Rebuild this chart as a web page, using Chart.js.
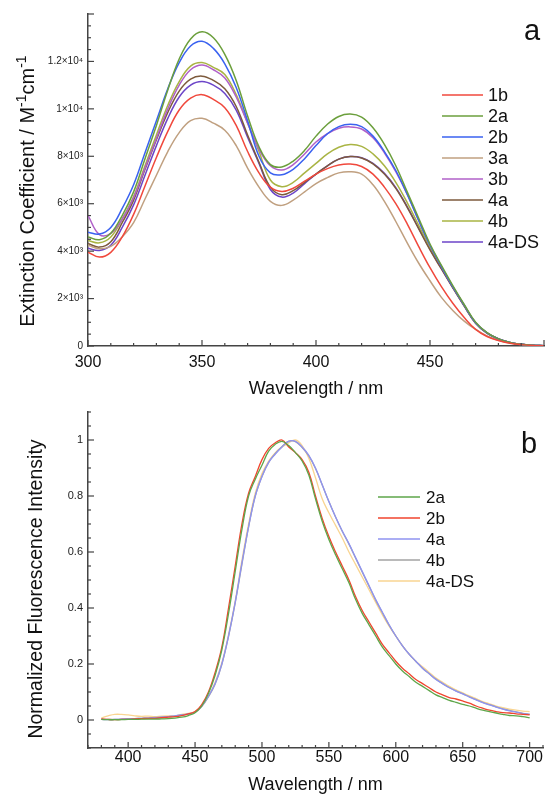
<!DOCTYPE html>
<html>
<head>
<meta charset="utf-8">
<script src="https://cdn.jsdelivr.net/npm/chart.js@4.4.0/dist/chart.umd.min.js"></script>
<style>
  body { margin: 0; background: #fff; width: 547px; height: 796px; overflow: hidden; position: relative; }
  .box { position: absolute; left: 0; width: 547px; }
  #boxA { top: 0; height: 400px; }
  #boxB { top: 400px; height: 396px; }
</style>
</head>
<body>
<div class="box" id="boxA"><canvas id="absChart"></canvas></div>
<div class="box" id="boxB"><canvas id="fluoChart"></canvas></div>
<script>
const FONT = '"Liberation Sans", Arial, sans-serif';

// ---- panel a: absorption ----
const waveA = [300,305,310,315,320,325,330,335,340,345,350,355,360,365,370,375,380,385,390,395,
               400,405,410,415,420,425,430,435,440,445,450,455,460,465,470,475,480,485,490,495,500];
const absLabels = ['1b', '2a', '2b', '3a', '3b', '4a', '4b', '4a-DS'];
const absColors = ['#f0483c', '#6b9f3c', '#3a62f0', '#c0a080', '#b060c8', '#7d5a3c', '#a9b443', '#6c45c8'];
const ext1b = [3960,3750,3950,4600,5550,6750,7950,9050,9950,10450,10600,10400,10050,9300,8200,7300,6700,6520,6650,6950,
               7250,7480,7630,7670,7570,7250,6700,6000,5150,4200,3300,2500,1800,1200,700,400,230,120,58,25,10];
const ext2a = [4600,4480,4750,5500,6500,7900,9300,10800,12100,12950,13250,13000,12300,11200,9700,8400,7650,7550,7800,8250,
               8850,9350,9680,9780,9650,9200,8500,7600,6500,5400,4300,3400,2550,1750,1000,560,300,150,70,30,12];
const ext2b = [4800,4720,5000,5800,6800,8150,9500,10850,11950,12650,12850,12550,11900,10900,9500,8000,7300,7220,7450,7900,
               8450,8950,9250,9350,9250,8850,8200,7400,6400,5300,4250,3350,2500,1720,980,550,300,150,70,30,12];
const ext3a = [4250,4100,4200,4600,5200,6200,7200,8200,9000,9500,9600,9400,9100,8450,7500,6700,6100,5930,6150,6500,
               6850,7100,7300,7350,7250,6800,6100,5250,4350,3500,2750,2050,1500,1050,700,420,240,125,60,25,10];
const ext3b = [5500,4700,4750,5350,6250,7500,8750,10000,11000,11650,11850,11650,11300,10500,9400,8300,7600,7420,7650,8100,
               8600,8950,9180,9240,9150,8780,8150,7350,6400,5300,4250,3350,2500,1720,980,550,300,150,70,30,12];
const ext4a = [4320,4170,4400,5200,6150,7450,8700,9850,10750,11250,11380,11200,10850,10100,8900,7750,6700,6380,6550,6900,
               7250,7600,7880,7990,7930,7680,7250,6650,5850,4950,4050,3250,2450,1680,960,540,295,150,70,30,12];
const ext4b = [4450,4350,4600,5350,6300,7600,8900,10150,11150,11800,11950,11750,11450,10600,9400,8200,7000,6720,6900,7300,
               7700,8100,8380,8500,8420,8100,7600,6900,6050,5100,4150,3300,2480,1700,970,550,300,150,70,30,12];
const ext4aDS = [4120,4030,4250,5000,5950,7200,8450,9600,10500,11000,11150,11000,10650,9950,8800,7700,6600,6280,6450,6850,
                 7250,7600,7880,7990,7940,7700,7280,6680,5880,4980,4080,3270,2470,1700,970,545,298,150,70,30,12];
const absSeries = [ext1b, ext2a, ext2b, ext3a, ext3b, ext4a, ext4b, ext4aDS];
const absXTicks = [300, 350, 400, 450];
const absYTicks = [0, 2000, 4000, 6000, 8000, 10000, 12000];
const absYText = ['0', '2\u00d710\u00b3', '4\u00d710\u00b3', '6\u00d710\u00b3', '8\u00d710\u00b3', '1\u00d710\u2074', '1.2\u00d710\u2074'];

// ---- panel b: normalized fluorescence ----
const waveB = [380,385,390,395,400,405,410,415,420,425,430,435,440,445,450,455,460,465,470,475,480,485,490,495,500,
               505,510,515,520,525,530,535,540,545,550,555,560,565,570,575,580,585,590,595,600,
               605,610,615,620,625,630,635,640,645,650,655,660,665,670,675,680,685,690,695,700];
const fluoLabels = ['2a', '2b', '4a', '4b', '4a-DS'];
const fluoColors = ['#5ea64a', '#f0452e', '#8f93f0', '#a3a3a3', '#f9d592'];
const fl2a = [0.002,0.001,0.001,0.001,0.002,0.002,0.003,0.003,0.003,0.004,0.005,0.007,0.01,0.016,0.026,0.05,0.095,0.16,0.25,0.38,0.53,0.68,0.8,0.86,0.91,
              0.96,0.985,0.995,0.98,0.955,0.925,0.875,0.79,0.71,0.645,0.59,0.54,0.49,0.43,0.38,0.34,0.3,0.26,0.23,0.2,
              0.175,0.155,0.135,0.12,0.105,0.09,0.08,0.07,0.063,0.056,0.05,0.042,0.035,0.03,0.025,0.02,0.016,0.015,0.012,0.008];
const fl2b = [0.004,0.002,0.001,0.002,0.002,0.004,0.005,0.006,0.006,0.008,0.01,0.012,0.016,0.022,0.03,0.055,0.1,0.17,0.26,0.4,0.55,0.7,0.81,0.87,0.93,
              0.97,0.99,1.0,0.975,0.955,0.93,0.885,0.8,0.72,0.655,0.6,0.55,0.5,0.44,0.39,0.35,0.31,0.27,0.24,0.21,
              0.185,0.165,0.145,0.13,0.115,0.1,0.09,0.08,0.075,0.068,0.06,0.05,0.042,0.035,0.03,0.026,0.025,0.022,0.02,0.018];
const fl4a = [0.002,0.001,0.002,0.003,0.004,0.005,0.006,0.007,0.008,0.01,0.012,0.015,0.018,0.022,0.028,0.05,0.085,0.13,0.2,0.3,0.42,0.56,0.69,0.8,0.87,
              0.92,0.95,0.975,0.995,0.995,0.975,0.945,0.9,0.84,0.78,0.725,0.675,0.63,0.58,0.53,0.48,0.43,0.385,0.34,0.3,
              0.265,0.235,0.21,0.185,0.165,0.145,0.13,0.115,0.103,0.093,0.082,0.072,0.062,0.054,0.046,0.039,0.033,0.028,0.023,0.02];
const fl4b = [0.003,0.002,0.002,0.003,0.004,0.005,0.006,0.007,0.009,0.01,0.012,0.014,0.018,0.021,0.027,0.048,0.083,0.128,0.198,0.298,0.418,0.555,0.69,0.8,0.87,
              0.92,0.952,0.977,0.996,0.994,0.973,0.943,0.898,0.84,0.78,0.725,0.674,0.628,0.578,0.528,0.478,0.428,0.383,0.339,0.3,
              0.265,0.235,0.209,0.185,0.165,0.146,0.13,0.116,0.104,0.094,0.083,0.073,0.063,0.055,0.047,0.04,0.034,0.029,0.024,0.021];
const fl4aDS = [0.008,0.015,0.02,0.02,0.018,0.015,0.013,0.014,0.012,0.014,0.015,0.015,0.02,0.024,0.03,0.05,0.085,0.135,0.205,0.305,0.425,0.57,0.7,0.81,0.88,
                0.925,0.955,0.975,0.99,1.0,0.98,0.935,0.865,0.79,0.74,0.695,0.65,0.6,0.555,0.51,0.465,0.42,0.375,0.335,0.3,
                0.265,0.235,0.21,0.19,0.17,0.15,0.135,0.12,0.108,0.097,0.086,0.076,0.066,0.058,0.05,0.044,0.039,0.035,0.032,0.03];
const fluoSeries = [fl2a, fl2b, fl4a, fl4b, fl4aDS];
const fluoXTicks = [400, 450, 500, 550, 600, 650, 700];
const fluoYTicks = [0, 0.2, 0.4, 0.6, 0.8, 1];

// build line datasets from x array + y array
function makeDatasets(xs, series, labels, colors, width) {
    return series.map((ys, i) => ({
        label: labels[i],
        data: ys.map((y, j) => ({ x: xs[j], y: y })),
        borderColor: colors[i],
        borderWidth: width,
        pointRadius: 0,
        tension: 0.4,
        fill: false
    }));
}

// inward major/minor ticks on both axes
const innerTicks = {
    id: 'innerTicks',
    afterDraw(chart, args, opts) {
        const ctx = chart.ctx, area = chart.chartArea;
        const xs = chart.scales.x, ys = chart.scales.y;
        ctx.save();
        ctx.strokeStyle = '#444';
        ctx.lineWidth = 1.2;
        const nx = Math.round((xs.max - xs.min) / opts.xMinor);
        for (let k = 0; k <= nx; k++) {
            const v = xs.min + k * opts.xMinor;
            const major = Math.abs(v / opts.xMajor - Math.round(v / opts.xMajor)) < 1e-6;
            const px = xs.getPixelForValue(v);
            ctx.beginPath();
            ctx.moveTo(px, area.bottom);
            ctx.lineTo(px, area.bottom - (major ? 6 : 3));
            ctx.stroke();
        }
        const ny = Math.round((ys.max - ys.min) / opts.yMinor);
        for (let k = 0; k <= ny; k++) {
            const v = ys.min + k * opts.yMinor;
            const major = Math.abs(v / opts.yMajor - Math.round(v / opts.yMajor)) < 1e-6;
            const py = ys.getPixelForValue(v);
            ctx.beginPath();
            ctx.moveTo(area.left, py);
            ctx.lineTo(area.left + (major ? 6 : 3), py);
            ctx.stroke();
        }
        ctx.restore();
    }
};

// legend inside the plot, line sample + label
const sideLegend = {
    id: 'sideLegend',
    afterDraw(chart, args, opts) {
        const ctx = chart.ctx;
        ctx.save();
        ctx.font = opts.font;
        ctx.textBaseline = 'middle';
        ctx.fillStyle = '#111';
        chart.data.datasets.forEach((ds, i) => {
            const y = opts.y0 + i * opts.step;
            ctx.strokeStyle = ds.borderColor;
            ctx.lineWidth = 1.6;
            ctx.beginPath();
            ctx.moveTo(opts.x1, y);
            ctx.lineTo(opts.x2, y);
            ctx.stroke();
            ctx.fillText(ds.label, opts.textX, y + 1);
        });
        ctx.restore();
    }
};

// panel letter and rotated y title (with superscripts)
const extraText = {
    id: 'extraText',
    afterDraw(chart, args, opts) {
        const ctx = chart.ctx;
        ctx.save();
        ctx.fillStyle = '#111';
        ctx.font = opts.letterFont;
        ctx.textBaseline = 'alphabetic';
        ctx.fillText(opts.letter, opts.letterX, opts.letterY);

        ctx.translate(opts.titleX, opts.titleY);
        ctx.rotate(-Math.PI / 2);
        let total = 0;
        opts.parts.forEach(p => {
            ctx.font = p.sup ? opts.supFont : opts.titleFont;
            total += ctx.measureText(p.t).width;
        });
        let x = -total / 2;
        ctx.textBaseline = 'middle';
        opts.parts.forEach(p => {
            ctx.font = p.sup ? opts.supFont : opts.titleFont;
            ctx.fillText(p.t, x, p.sup ? -6 : 0);
            x += ctx.measureText(p.t).width;
        });
        ctx.restore();
    }
};

function baseOptions(cfg) {
    return {
        responsive: true,
        maintainAspectRatio: false,
        animation: false,
        layout: { padding: { top: cfg.padTop, right: cfg.padRight, left: 0, bottom: 0 } },
        plugins: {
            legend: { display: false },
            tooltip: { enabled: false },
            innerTicks: cfg.ticks,
            sideLegend: cfg.legend,
            extraText: cfg.text
        },
        scales: {
            x: {
                type: 'linear',
                min: cfg.xMin, max: cfg.xMax,
                afterFit: s => { s.height = cfg.xHeight; },
                afterBuildTicks: s => { s.ticks = cfg.xTicks.map(v => ({ value: v })); },
                grid: { drawOnChartArea: false, drawTicks: false },
                border: { color: '#444', width: 1.5 },
                ticks: { color: '#111', font: { family: FONT, size: 16 }, padding: cfg.xPad, maxRotation: 0 },
                title: { display: true, text: 'Wavelength / nm', color: '#111',
                         font: { family: FONT, size: 18 }, padding: 0 }
            },
            y: {
                type: 'linear',
                min: cfg.yMin, max: cfg.yMax,
                afterFit: s => { s.width = 88; },
                afterBuildTicks: s => { s.ticks = cfg.yTicks.map(v => ({ value: v })); },
                grid: { drawOnChartArea: false, drawTicks: false },
                border: { color: '#444', width: 1.5 },
                ticks: { color: '#222', font: { family: FONT, size: cfg.yFont }, padding: 5,
                         callback: cfg.yLabel }
            }
        }
    };
}

new Chart(document.getElementById('absChart'), {
    type: 'line',
    data: { datasets: makeDatasets(waveA, absSeries, absLabels, absColors, 1.5) },
    options: baseOptions({
        padTop: 14, padRight: 3,
        xMin: 300, xMax: 500, xTicks: absXTicks, xHeight: 54, xPad: 7,
        yMin: 0, yMax: 14000, yTicks: absYTicks, yFont: 10,
        yLabel: v => absYText[absYTicks.indexOf(v)],
        ticks: { xMinor: 10, xMajor: 50, yMinor: 500, yMajor: 2000 },
        legend: { x1: 442, x2: 483, textX: 488, y0: 95, step: 21, font: '18px ' + FONT },
        text: {
            letter: 'a', letterX: 524, letterY: 40, letterFont: '29px ' + FONT,
            titleX: 28, titleY: 191, titleFont: '20px ' + FONT, supFont: '14px ' + FONT,
            parts: [{ t: 'Extinction Coefficient / M' }, { t: '-1', sup: true }, { t: 'cm' }, { t: '-1', sup: true }]
        }
    }),
    plugins: [innerTicks, sideLegend, extraText]
});

new Chart(document.getElementById('fluoChart'), {
    type: 'line',
    data: { datasets: makeDatasets(waveB, fluoSeries, fluoLabels, fluoColors, 1.3) },
    options: baseOptions({
        padTop: 12, padRight: 4,
        xMin: 370, xMax: 710, xTicks: fluoXTicks, xHeight: 48, xPad: 0,
        yMin: -0.1, yMax: 1.1, yTicks: fluoYTicks, yFont: 11,
        yLabel: v => (v === 0 || v === 1) ? String(v) : v.toFixed(1),
        ticks: { xMinor: 10, xMajor: 50, yMinor: 0.05, yMajor: 0.2 },
        legend: { x1: 378, x2: 420, textX: 426, y0: 97, step: 21, font: '17px ' + FONT },
        text: {
            letter: 'b', letterX: 521, letterY: 53, letterFont: '29px ' + FONT,
            titleX: 37, titleY: 189, titleFont: '19.5px ' + FONT, supFont: '13px ' + FONT,
            parts: [{ t: 'Normalized Fluorescence Intensity' }]
        }
    }),
    plugins: [innerTicks, sideLegend, extraText]
});
</script>
</body>
</html>
